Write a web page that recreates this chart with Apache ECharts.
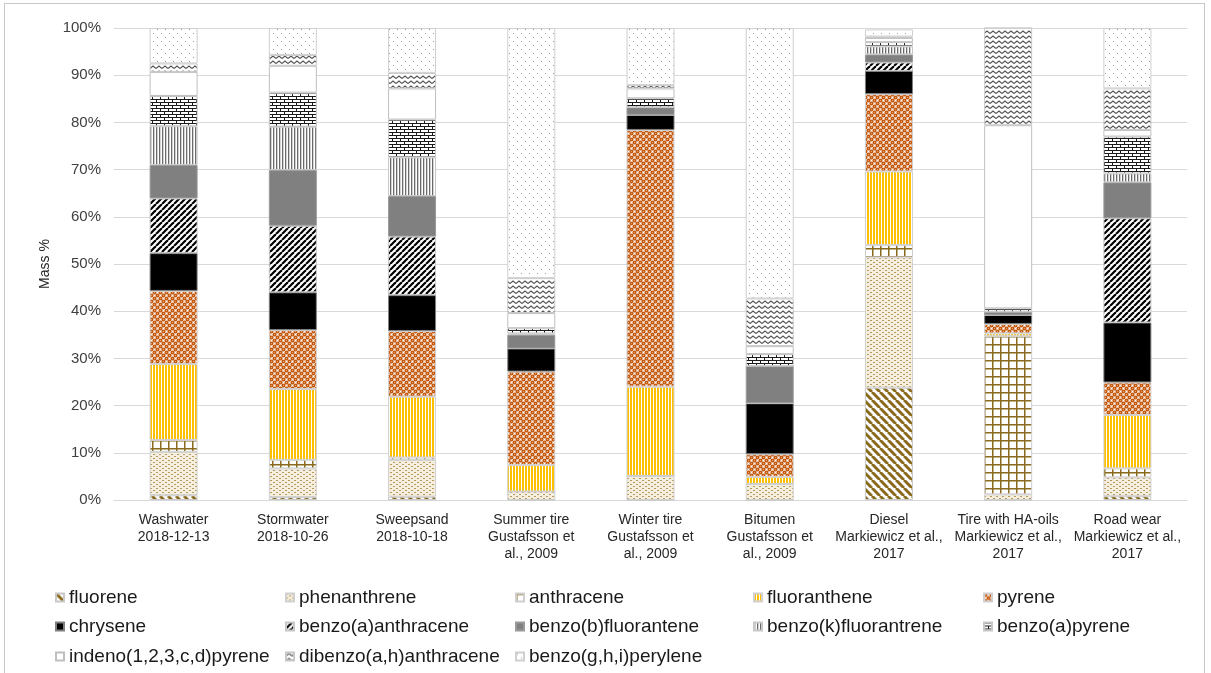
<!DOCTYPE html>
<html><head><meta charset="utf-8">
<script src="https://cdn.jsdelivr.net/npm/echarts@6/dist/echarts.min.js"></script>
<style>
html,body{margin:0;padding:0;background:#fff;}
#frame{position:absolute;left:4px;top:3px;width:1201px;height:690px;border:1px solid #c8c8c8;box-sizing:border-box;}
#chart{position:absolute;left:0;top:0;width:1211px;height:673px;}
</style></head>
<body><div id="frame"></div><div id="chart"></div>
<script>
const categories = [
  "Washwater\n2018-12-13",
  "Stormwater\n2018-10-26",
  "Sweepsand\n2018-10-18",
  "Summer tire\nGustafsson et\nal., 2009",
  "Winter tire\nGustafsson et\nal., 2009",
  "Bitumen\nGustafsson et\nal., 2009",
  "Diesel\nMarkiewicz et al.,\n2017",
  "Tire with HA-oils\nMarkiewicz et al.,\n2017",
  "Road wear\nMarkiewicz et al.,\n2017"
];
const yTicks = [0,10,20,30,40,50,60,70,80,90,100];

const fluorene        = [1.0, 0.6, 0.7, 0.0, 0.0, 0.0, 23.8, 0.0, 0.8];
const phenanthrene    = [9.2, 6.1, 7.8, 1.8, 5.1, 3.4, 27.6, 1.2, 4.0];
const anthracene      = [2.5, 1.8, 0.5, 0.0, 0.0, 0.0, 2.6, 33.5, 1.9];
const fluoranthene    = [16.1, 15.0, 12.9, 5.6, 18.9, 1.5, 15.6, 0.6, 11.3];
const pyrene          = [15.5, 12.5, 13.9, 19.8, 54.4, 4.8, 16.4, 2.0, 6.9];
const chrysene        = [8.0, 8.0, 7.6, 4.9, 3.2, 10.8, 4.9, 1.9, 12.7];
const benzoAanth      = [11.6, 14.1, 12.4, 0.0, 0.0, 0.0, 1.8, 0.0, 22.1];
const benzoBfl        = [7.1, 11.8, 8.6, 2.9, 1.6, 7.9, 1.7, 0.7, 7.6];
const benzoKfl        = [8.2, 9.2, 8.2, 0.3, 0.0, 0.0, 1.7, 0.0, 1.9];
const benzoApyr       = [6.4, 7.2, 8.0, 1.1, 1.9, 2.5, 0.9, 0.7, 7.8];
const indeno          = [5.1, 5.7, 6.6, 3.2, 2.1, 1.7, 0.9, 38.8, 1.4];
const dibenzo         = [1.8, 2.3, 3.3, 7.4, 0.7, 10.1, 0.3, 20.6, 8.8];
const benzoGHI        = [7.5, 5.7, 9.5, 53.0, 12.1, 57.3, 1.5, 0.0, 12.8];

const seriesNames = ["fluorene","phenanthrene","anthracene","fluoranthene","pyrene",
  "chrysene","benzo(a)anthracene","benzo(b)fluorantene","benzo(k)fluorantrene","benzo(a)pyrene",
  "indeno(1,2,3,c,d)pyrene","dibenzo(a,h)anthracene","benzo(g,h,i)perylene"];
const seriesData = [fluorene,phenanthrene,anthracene,fluoranthene,pyrene,chrysene,benzoAanth,
  benzoBfl,benzoKfl,benzoApyr,indeno,dibenzo,benzoGHI];

function tile(w,h,draw){const c=document.createElement('canvas');c.width=w;c.height=h;const x=c.getContext('2d');x.fillStyle='#fff';x.fillRect(0,0,w,h);draw(x,w,h);return {image:c,repeat:'repeat'};}
const gold='#8a6a1c';
const patterns = [
  tile(8,8,(x)=>{x.strokeStyle=gold;x.lineWidth=3;for(let k=-8;k<=8;k+=8){x.beginPath();x.moveTo(k,0);x.lineTo(k+8,8);x.stroke();}}),
  tile(6,4,(x)=>{x.fillStyle='#f5efe0';x.fillRect(0,0,6,4);x.fillStyle='#b8985a';x.fillRect(0,0,2,1);x.fillRect(3,2,2,1);}),
  tile(8,8,(x)=>{x.fillStyle=gold;x.fillRect(0,0,8,1.5);x.fillRect(0,0,1.5,8);}),
  tile(3,1,(x)=>{x.fillStyle='#ffc000';x.fillRect(0,0,2,1);}),
  tile(6,6,(x)=>{x.fillStyle='#c55a11';
    const pts=[[1.5,1.5],[4.5,4.5],[4.5,-1.5],[-1.5,4.5],[7.5,1.5],[1.5,7.5]];
    pts.forEach(p=>{x.beginPath();x.arc(p[0],p[1],2.0,0,Math.PI*2);x.fill();});
    x.fillStyle='#e9a06e';x.fillRect(1,1,1,1);x.fillRect(4,4,1,1);}),
  tile(2,2,(x)=>{x.fillStyle='#000';x.fillRect(0,0,2,2);}),
  tile(6,6,(x)=>{x.strokeStyle='#000';x.lineWidth=2.2;for(let k=-6;k<=6;k+=6){x.beginPath();x.moveTo(k,6);x.lineTo(k+6,0);x.stroke();}}),
  tile(2,2,(x)=>{x.fillStyle='#808080';x.fillRect(0,0,2,2);}),
  tile(3,1,(x)=>{x.fillStyle='#6a6a6a';x.fillRect(0,0,1.3,1);}),
  tile(8,6,(x)=>{x.fillStyle='#1a1a1a';x.fillRect(0,0,8,1);x.fillRect(0,3,8,1);x.fillRect(0,0,1,3);x.fillRect(4,3,1,3);}),
  tile(2,2,()=>{}),
  tile(6,5,(x)=>{x.strokeStyle='#555';x.lineWidth=1.1;x.beginPath();x.moveTo(0,3.5);x.lineTo(3,1);x.lineTo(6,3.5);x.stroke();}),
  tile(8,8,(x)=>{x.fillStyle='#9a9a9a';x.fillRect(1,1,1,1);x.fillRect(5,5,1,1);})
];
const borders = ['#c8c8c8','#d0d0d0','#d0d0d0','#d0d0d0','#d0d0d0','#7f7f7f','#c8c8c8','#9a9a9a','#c8c8c8','#c8c8c8','#bfbfbf','#c8c8c8','#cfcfcf'];

const colX = [55,285,515,753,983];
const rowY = [588,617,647];
const legends = seriesNames.map((n,i)=>({
  data:[n], left:colX[i%5], top:rowY[Math.floor(i/5)], padding:0,
  itemWidth:8, itemHeight:8, itemGap:5, icon:'rect',
  textStyle:{fontFamily:'Liberation Sans, Arial, sans-serif', fontSize:19, color:'#1a1a1a'}
}));

const chart = echarts.init(document.getElementById('chart'), null, {renderer:'canvas'});
chart.setOption({
  animation:false,
  backgroundColor:'transparent',
  grid:{left:114, right:24, top:28, bottom:173, containLabel:false},
  legend: legends,
  xAxis:{type:'category', data:categories,
    axisLine:{lineStyle:{color:'#d9d9d9'}}, axisTick:{show:false},
    axisLabel:{interval:0, fontFamily:'Liberation Sans, Arial, sans-serif', fontSize:14, color:'#262626', lineHeight:17, margin:12}},
  yAxis:{type:'value', min:0, max:100, interval:10,
    name:'Mass %', nameLocation:'middle', nameGap:58,
    nameTextStyle:{fontFamily:'Liberation Sans, Arial, sans-serif', fontSize:14, color:'#262626'},
    axisLine:{show:false}, axisTick:{show:false},
    splitLine:{lineStyle:{color:'#d9d9d9', width:1}},
    axisLabel:{formatter:(v)=> yTicks.includes(v)? v+'%':'', fontFamily:'Liberation Sans, Arial, sans-serif', fontSize:15, color:'#404040', margin:13}},
  series: seriesNames.map((n,i)=>({
    name:n, type:'bar', stack:'total', barWidth:48,
    data: seriesData[i],
    itemStyle:{color:patterns[i], borderColor:borders[i], borderWidth:1},
    emphasis:{disabled:true}
  }))
});
</script></body></html>
